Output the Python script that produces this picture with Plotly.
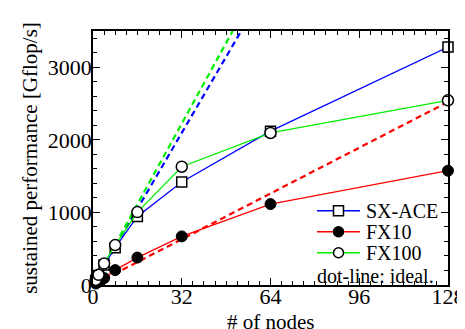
import plotly.graph_objects as go

nodes = [1, 2, 4, 8, 16, 32, 64, 128]
sx_ace = [66, 132, 275, 515, 945, 1420, 2120, 3280]
fx10 = [20, 42, 95, 205, 378, 670, 1115, 1575]
fx100 = [69, 140, 295, 550, 1005, 1630, 2095, 2545]

ideal_nodes = [1, 128]
sx_ace_ideal = [65.5, 8384]
fx100_ideal = [69.5, 8896]
fx10_ideal = [19.7, 2522]

x_ticks = [0, 32, 64, 96, 128]
y_ticks = [0, 1000, 2000, 3000]

BLUE = "#0000ff"
RED = "#ff0000"
GREEN = "#00f000"
FONT = "Liberation Serif"

fig = go.Figure()

for ys, col in [(sx_ace_ideal, BLUE), (fx100_ideal, GREEN), (fx10_ideal, RED)]:
    fig.add_trace(go.Scatter(x=ideal_nodes, y=ys, mode="lines",
                             line=dict(color=col, width=2.2, dash="6px,4px"),
                             showlegend=False, hoverinfo="skip"))

fig.add_trace(go.Scatter(x=nodes, y=sx_ace, mode="lines+markers", name="SX-ACE",
                         line=dict(color=BLUE, width=1.3),
                         marker=dict(symbol="square", size=10, color="white",
                                     line=dict(color="black", width=1.5)),
                         cliponaxis=False, showlegend=False))
fig.add_trace(go.Scatter(x=nodes, y=fx10, mode="lines+markers", name="FX10",
                         line=dict(color=RED, width=1.3),
                         marker=dict(symbol="circle", size=11, color="black",
                                     line=dict(color="black", width=1)),
                         cliponaxis=False, showlegend=False))
fig.add_trace(go.Scatter(x=nodes, y=fx100, mode="lines+markers", name="FX100",
                         line=dict(color=GREEN, width=1.3),
                         marker=dict(symbol="circle", size=11, color="white",
                                     line=dict(color="black", width=1.5)),
                         cliponaxis=False, showlegend=False))

# page body adds an 8px offset; positions below are in screenshot pixels
W, H, L, B = 355.0, 254.0, 93.0, 285.0
def px(x):
    return (x - L) / W
def py(y):
    return (B - y) / H

shapes = []
annotations = []
rows = [("SX-ACE", BLUE, "square", "white", 210.7),
        ("FX10", RED, "circle", "black", 231.7),
        ("FX100", GREEN, "circle", "white", 252.7)]
for name, col, sym, fill, yy in rows:
    shapes.append(dict(type="line", xref="paper", yref="paper",
                       x0=px(317), x1=px(360), y0=py(yy), y1=py(yy),
                       line=dict(color=col, width=1.5)))
    shapes.append(dict(type="rect" if sym == "square" else "circle",
                       xref="paper", yref="paper",
                       xsizemode="pixel", ysizemode="pixel",
                       xanchor=px(338.5), yanchor=py(yy),
                       x0=-5, x1=5, y0=-5, y1=5,
                       fillcolor=fill, line=dict(color="black", width=1.5)))
    annotations.append(dict(text=name, xref="paper", yref="paper",
                            x=px(364), y=py(yy), xanchor="left", yanchor="middle",
                            showarrow=False, font=dict(family=FONT, size=20, color="black")))
annotations.append(dict(text="dot-line: ideal.", xref="paper", yref="paper",
                        x=px(315), y=py(276), xanchor="left", yanchor="middle",
                        showarrow=False, font=dict(family=FONT, size=20, color="black")))
# x-axis title placed as annotation for exact position
annotations.append(dict(text="# of nodes", xref="paper", yref="paper",
                        x=0.5, y=py(322), xanchor="center", yanchor="middle",
                        showarrow=False, font=dict(family=FONT, size=21, color="black")))

axis_common = dict(showline=True, linecolor="black", linewidth=1.5, mirror="allticks",
                   ticks="inside", ticklen=7, tickwidth=1, tickcolor="black",
                   showgrid=False, zeroline=False, automargin=False,
                   tickfont=dict(family=FONT, size=22, color="black"))

fig.update_layout(
    width=457, height=321,
    margin=dict(l=85, r=17, t=23, b=44),
    paper_bgcolor="white", plot_bgcolor="white",
    font=dict(family=FONT, size=21, color="black"),
    xaxis=dict(range=[0, 128], tickvals=x_ticks, ticktext=[str(v) for v in x_ticks],
               minor=dict(dtick=4, ticks="inside", ticklen=4, tickcolor="black"),
               ticklabelstandoff=-9,
               **axis_common),
    yaxis=dict(range=[0, 3500], tickvals=y_ticks, ticktext=[str(v) for v in y_ticks],
               minor=dict(dtick=200, ticks="inside", ticklen=4, tickcolor="black"),
               title=dict(text="sustained performance [Gflop/s]", standoff=4,
                          font=dict(family=FONT, size=21)),
               ticklabelstandoff=-5,
               **axis_common),
    shapes=shapes, annotations=annotations,
)

fig.write_html("out.html")
